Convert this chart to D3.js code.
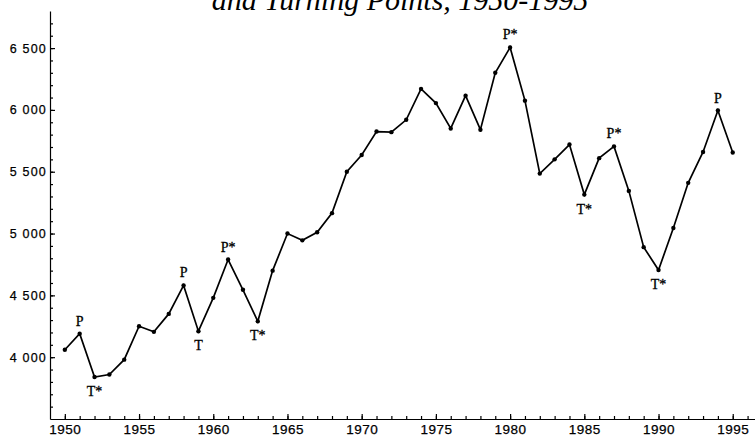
<!DOCTYPE html>
<html>
<head>
<meta charset="utf-8">
<script src="https://cdn.jsdelivr.net/npm/d3@7"></script>
<style>
  body { margin: 0; background: #fff; }
  svg { display: block; font-family: "Liberation Serif", "DejaVu Serif", serif; }
  .line { fill: none; stroke: #000; stroke-width: 1.7px; }
  .axis path, .axis line { stroke: #000; stroke-width: 1.2px; }
  .axis text { fill: #000; stroke: #000; stroke-width: 0.25px; }
  .turn { fill: #000; stroke: #000; stroke-width: 0.3px; }
</style>
</head>
<body>
<script>
// years and values
var years = [1950, 1951, 1952, 1953, 1954, 1955, 1956, 1957, 1958, 1959,
             1960, 1961, 1962, 1963, 1964, 1965, 1966, 1967, 1968, 1969,
             1970, 1971, 1972, 1973, 1974, 1975, 1976, 1977, 1978, 1979,
             1980, 1981, 1982, 1983, 1984, 1985, 1986, 1987, 1988, 1989,
             1990, 1991, 1992, 1993, 1994, 1995];
var values = [4060, 4190, 3840, 3860, 3980, 4250, 4205, 4350, 4580, 4210,
              4480, 4790, 4545, 4290, 4700, 5000, 4945, 5010, 5165, 5500,
              5635, 5825, 5820, 5920, 6170, 6055, 5850, 6115, 5840, 6300,
              6505, 6075, 5485, 5600, 5720, 5315, 5610, 5705, 5345, 4890,
              4705, 5045, 5410, 5660, 5995, 5655];

// peaks and troughs
var turnYears = [1951, 1952, 1958, 1959, 1961, 1963, 1980, 1985, 1987, 1990, 1994];
var turnLabels = ["P", "T*", "P", "T", "P*", "T*", "P*", "T*", "P*", "T*", "P"];

var yTicks = [4000, 4500, 5000, 5500, 6000, 6500];
var xTicks = [1950, 1955, 1960, 1965, 1970, 1975, 1980, 1985, 1990, 1995];
var titleText = "and Turning Points, 1950-1995";

var margin = {top: 11, right: 0, bottom: 19, left: 50},
    width = 755 - margin.left - margin.right,
    height = 438 - margin.top - margin.bottom;

var x = d3.scaleLinear().domain([1949, 1996.5]).range([0, width]);
var y = d3.scaleLinear().domain([3500, 6800]).range([height, 0]);

var fmt = d3.formatLocale({decimal: ".", thousands: " ", grouping: [3], currency: ["", ""]}).format(",");

var data = years.map(function(d, i) { return {year: d, value: values[i]}; });

var svgRoot = d3.select("body").append("svg")
    .attr("width", 755)
    .attr("height", 438);

// title, the scan cuts off its upper half
svgRoot.append("text")
    .attr("x", 400)
    .attr("y", 10)
    .attr("text-anchor", "middle")
    .style("font-style", "italic")
    .style("font-size", "30px")
    .style("fill", "#000")
    .text(titleText);

var svg = svgRoot.append("g")
    .attr("transform", "translate(" + margin.left + "," + margin.top + ")");

// minor ticks
svg.append("g")
    .attr("class", "axis")
    .call(d3.axisLeft(y).tickValues(d3.range(3600, 6800, 100)).tickSizeInner(-3).tickSizeOuter(0).tickFormat(""))
    .select(".domain").remove();
svg.append("g")
    .attr("class", "axis")
    .attr("transform", "translate(0," + height + ")")
    .call(d3.axisBottom(x).tickValues(d3.range(1950, 1997, 1)).tickSizeInner(-3).tickSizeOuter(0).tickFormat(""))
    .select(".domain").remove();

// Y axis
svg.append("g")
    .attr("class", "axis")
    .call(d3.axisLeft(y).tickValues(yTicks).tickSizeInner(-5).tickSizeOuter(0).tickPadding(3).tickFormat(fmt))
    .selectAll("text")
    .style("font-size", "12.5px")
    .style("letter-spacing", "1.2px");

// X axis
svg.append("g")
    .attr("class", "axis")
    .attr("transform", "translate(0," + height + ")")
    .call(d3.axisBottom(x).tickValues(xTicks).tickSizeInner(-5).tickSizeOuter(0).tickPadding(5).tickFormat(d3.format("d")))
    .selectAll("text")
    .style("font-size", "13.5px")
    .style("letter-spacing", "0.5px");

// line
var valueline = d3.line()
    .x(function(d) { return x(d.year); })
    .y(function(d) { return y(d.value); });

svg.append("path")
    .data([data])
    .attr("class", "line")
    .attr("d", valueline);

svg.selectAll(".dot")
    .data(data)
    .enter().append("circle")
    .attr("class", "dot")
    .attr("cx", function(d) { return x(d.year); })
    .attr("cy", function(d) { return y(d.value); })
    .attr("r", 2.2)
    .style("fill", "#000");

// turning point labels
svg.selectAll(".turn")
    .data(turnYears)
    .enter().append("text")
    .attr("class", "turn")
    .attr("x", function(d) { return x(d); })
    .attr("y", function(d, i) {
        var v = values[years.indexOf(d)];
        return turnLabels[i].charAt(0) === "P" ? y(v) - 8 : y(v) + 19;
    })
    .attr("text-anchor", "middle")
    .style("font-size", "14px")
    .text(function(d, i) { return turnLabels[i]; });
</script>
</body>
</html>
